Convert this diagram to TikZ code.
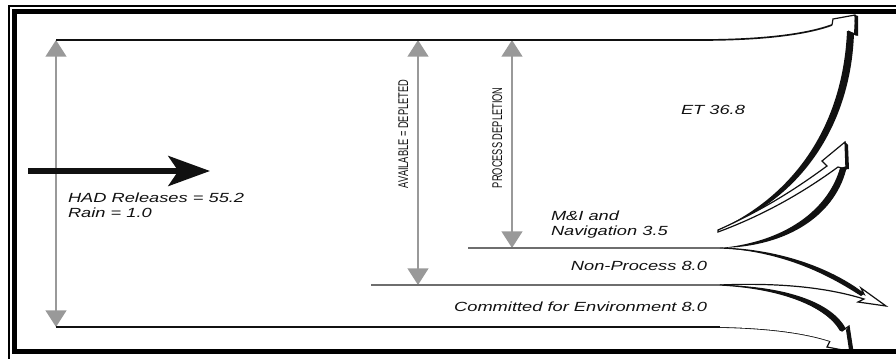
\documentclass[tikz,border=0pt]{standalone}
\usepackage{fontspec}
\newfontfamily\flowfont[FakeStretch=1.38]{Liberation Sans}
\newfontfamily\capsfont[FakeStretch=0.66]{Liberation Sans}
\usetikzlibrary{arrows.meta}
\definecolor{clrdepletion}{HTML}{999999}
\definecolor{clrlevel}{HTML}{6E6E6E}
\definecolor{clrflow}{HTML}{111111}

\begin{document}
\begin{tikzpicture}[
    x=0.03cm, y=-0.03cm,
    every node/.style={inner sep=0pt, outer sep=0pt},
    flowlabel/.style={font=\flowfont\itshape\fontsize{11.3}{13}\selectfont, text=clrflow},
    capslabel/.style={font=\capsfont\fontsize{12}{14}\selectfont, text=clrflow, rotate=90},
    depletion/.style={{Triangle[length=0.5cm, width=0.62cm]}-{Triangle[length=0.5cm, width=0.62cm]},
                      draw=clrdepletion, line width=0.075cm},
    inflow/.style={-{Stealth[length=1.25cm, width=0.9cm, inset=0.3cm]}, draw=clrflow, line width=0.17cm},
    edge/.style={draw=clrflow, line width=0.05cm},
    level/.style={draw=clrlevel, line width=0.036cm},
    band/.style={draw=clrflow, line width=0.036cm, line join=miter},
    bandfill/.style={fill=white},
    shade/.style={fill=clrflow},
    frameouter/.style={draw=black, line width=0.06cm},
    frameinner/.style={draw=black, line width=0.15cm},
]
\useasboundingbox (0,0) rectangle (896,358);
\clip (0,0) rectangle (896,358);

% levels and end points
\coordinate (top_l) at (56,40);
\coordinate (top_r) at (700,40);
\coordinate (bot_l) at (56,327);
\coordinate (bot_r) at (720,327);
\coordinate (mi_l) at (468,248);
\coordinate (mi_r) at (720,248);
\coordinate (np_l) at (371,285);
\coordinate (np_r) at (720,285);
\coordinate (av_top) at (418,40);
\coordinate (av_bot) at (418,285);
\coordinate (pd_top) at (512,40);
\coordinate (pd_bot) at (512,248);
\coordinate (et_tail) at (718,230);
\coordinate (et_end) at (832,25);
\coordinate (ce_end) at (830,341);
\coordinate (in_s) at (28,171);
\coordinate (in_e) at (210,171);

% depletion arrows
\draw[depletion] (top_l) -- (bot_l);
\draw[depletion] (av_top) -- (av_bot);
\draw[depletion] (pd_top) -- (pd_bot);

% inflow
\draw[inflow] (in_s) -- (in_e);

% horizontal levels
\draw[edge] (top_l) -- (top_r) .. controls (770,40) and (810,33) .. (et_end);
\draw[edge] (bot_l) -- (bot_r) .. controls (770,328) and (805,333) .. (ce_end);
\draw[level] (mi_l) -- (mi_r);
\draw[level] (np_l) -- (np_r);

% ET head and outer edge
\fill[bandfill] (et_end) -- (833,19) -- (855,15) -- (856,35) -- (848,31) -- cycle;
\draw[band] (et_end) -- (833,19) -- (855,15) -- (856,35) -- (848,31);
\fill[shade] (et_tail) .. controls (795,195) and (843,125) .. (847,31)
    -- (854,33) .. controls (851,125) and (801,200) .. (et_tail) -- cycle;
\fill[shade] (855,15) -- (858,16) -- (858,36) -- (854,34) -- cycle;

% M&I and Navigation
\filldraw[band, fill=white] (et_tail) .. controls (770,207) and (805,182) .. (827,166) -- (822,161)
    -- (845,142) -- (846,169) -- (838,167) .. controls (812,186) and (772,212) .. (718,232) -- cycle;
\fill[shade] (mi_r) .. controls (785,242) and (828,210) .. (840,168)
    -- (847,166) .. controls (837,213) and (790,247) .. (mi_r) -- cycle;
\fill[shade] (845,142) -- (848,145) -- (849,169) -- (846,169) -- cycle;

% Non-Process
\fill[bandfill] (mi_r) .. controls (790,250) and (840,275) .. (864,294) -- (861,288)
    -- (886,306) -- (858,302) -- (864,299) .. controls (835,290) and (790,282) .. (np_r) -- cycle;
\draw[band] (mi_r) .. controls (790,250) and (840,275) .. (864,294) -- (861,288)
    -- (886,306) -- (858,302) -- (864,299) .. controls (835,290) and (790,282) .. (np_r);
\fill[shade] (mi_r) .. controls (790,250) and (840,275) .. (864,294)
    -- (861,296) .. controls (836,280) and (790,252) .. (mi_r) -- cycle;

% Committed for Environment
\fill[bandfill] (np_r) .. controls (780,288) and (825,305) .. (842,331) -- (849,326)
    -- (853,352) -- (827,347) -- (ce_end) .. controls (805,333) and (770,328) .. (bot_r) -- cycle;
\draw[band] (np_r) .. controls (780,288) and (825,305) .. (842,331) -- (849,326)
    -- (853,352) -- (827,347) -- (ce_end);
\fill[shade] (np_r) .. controls (780,288) and (825,305) .. (840,331)
    -- (846,329) .. controls (832,302) and (785,286) .. (np_r) -- cycle;
\fill[shade] (849,326) -- (853,352) -- (849,350) -- (846,330) -- cycle;

% labels
\node[flowlabel, anchor=base west] (had) at (68,202) {HAD Releases = 55.2};
\node[flowlabel, anchor=base west] (rain) at (68,217) {Rain = 1.0};
\node[flowlabel, anchor=base west] (et) at (681,114) {ET 36.8};
\node[flowlabel, anchor=base west] (mi) at (551,220) {M\&I and};
\node[flowlabel, anchor=base west] (nav) at (551,235) {Navigation 3.5};
\node[flowlabel, anchor=base east] (np) at (707,270) {Non-Process 8.0};
\node[flowlabel, anchor=base east] (ce) at (707,311) {Committed for Environment 8.0};
\node[capslabel, anchor=base west] (av) at (408,188) {AVAILABLE = DEPLETED};
\node[capslabel, anchor=base west] (pd) at (502,188) {PROCESS DEPLETION};

% frame
\draw[frameouter] (9,6) rectangle (910,370);
\draw[frameinner] (14.3,11.3) rectangle (910,351);
\end{tikzpicture}
\end{document}
